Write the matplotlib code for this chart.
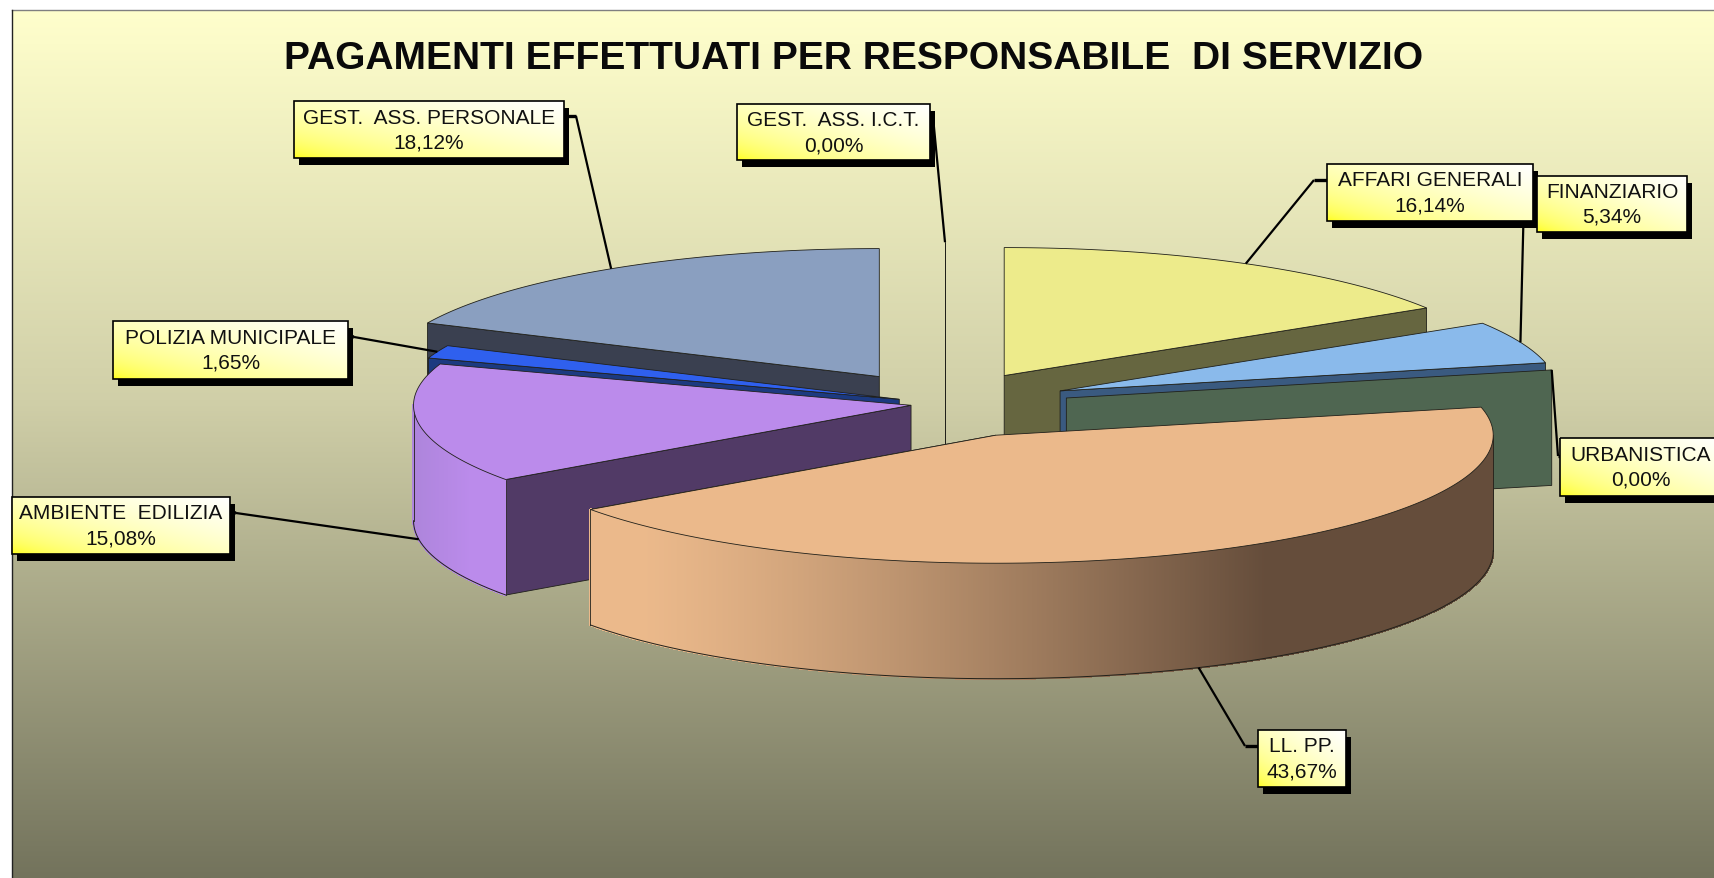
import numpy as np
import matplotlib
matplotlib.use("Agg")
import matplotlib.pyplot as plt
from matplotlib.patches import Polygon, Rectangle
from matplotlib.collections import PolyCollection
from matplotlib.colors import to_rgb

# ---- data (clockwise from 12 o'clock) ----
categories = ["AFFARI GENERALI", "FINANZIARIO", "URBANISTICA", "LL. PP.",
              "AMBIENTE  EDILIZIA", "POLIZIA MUNICIPALE",
              "GEST.  ASS. PERSONALE", "GEST.  ASS. I.C.T."]
values = [16.14, 5.34, 0.00, 43.67, 15.08, 1.65, 18.12, 0.00]
title_text = "PAGAMENTI EFFETTUATI PER RESPONSABILE  DI SERVIZIO"

# ---- style ----
explode = [0.245, 0.250, 0.250, 0.25, 0.069, 0.099, 0.245, 0.256]
drop = [0, 0, 2, 3, 1, 1, 0, 0]  # small vertical perspective nudges, pixels
top_colors = ["#EDEB8B", "#8ABAEB", "#4F6651", "#EBB98B", "#BB8BEB", "#2F60EE", "#8A9FC0", "#E8E8C0"]
wall_colors = ["#666640", "#3A5A80", "#4F6651", "#654D3B", "#513A66", "#1C3A80", "#3A4050", "#E8E8C0"]
paint_order = [7, 6, 5, 0, 1, 2, 4, 3]
# box: left, top, right, bottom (pixels)
boxes = [(1327, 165, 1533, 222), (1537, 177, 1687, 233), (1560, 439, 1722, 497),
         (1258, 731, 1346, 788), (12, 498, 230, 555), (113, 322, 348, 380),
         (294, 102, 564, 159), (737, 105, 930, 161)]
# leader elbow points next to each box (pixels)
elbows = [[(1327, 181), (1314, 181)], [(1537, 199), (1524, 199)], [(1560, 457), (1558, 457)],
          [(1258, 747), (1245, 747)], [(230, 513), (236, 514)], [(348, 337), (354, 338)],
          [(564, 117), (576, 117)], [(925, 118), (933, 118)]]
CX, CY, RX, RY, DEPTH = 945.0, 404.0, 497.5, 128.0, 115.5
W, H = 1715, 879

fig = plt.figure(figsize=(W / 100, H / 100), dpi=100, facecolor="white")
ax = fig.add_axes([0, 0, 1, 1])
ax.set_xlim(0, W)
ax.set_ylim(H, 0)
ax.axis("off")

# background gradient
stops_y = np.array([0.0, 0.45, 1.0])
stops_c = np.array([[255, 255, 204], [208, 207, 168], [115, 115, 92]]) / 255
t = np.linspace(0, 1, 400)
grad = np.stack([np.interp(t, stops_y, stops_c[:, i]) for i in range(3)], axis=1)[:, None, :]
ax.imshow(grad, extent=(12, W, H, 11), aspect="auto", zorder=0, interpolation="bilinear")
ax.set_xlim(0, W)
ax.set_ylim(H, 0)
ax.plot([12, W], [11, 11], color="#808080", lw=1, zorder=1)
ax.plot([12, 12], [11, H], color="#222222", lw=1, zorder=1)

# angular layout from the values
edges = np.concatenate([[0], np.cumsum(values)]) * 3.6
starts, ends = edges[:-1], edges[1:]
mids = (starts + ends) / 2


def apex(i):
    m = np.radians(mids[i])
    return np.array([CX + explode[i] * RX * np.sin(m), CY - explode[i] * RY * np.cos(m) + drop[i]])


def rim(c, deg):
    a = np.radians(deg)
    return np.column_stack([c[0] + RX * np.sin(a), c[1] - RY * np.cos(a)])


edge = "#20201a"
z = 2
for i in paint_order:
    c = apex(i)
    a0, a1 = starts[i], ends[i]
    # near radial wall
    wall_a = a0 if rim(c, [a0])[0, 1] >= rim(c, [a1])[0, 1] else a1
    if values[i] == 0:
        wall_a = a1
    r = rim(c, [wall_a])[0]
    quad = [c, r, r + [0, DEPTH], c + [0, DEPTH]]
    ax.add_patch(Polygon(quad, closed=True, facecolor=wall_colors[i], edgecolor=edge, lw=0.6, zorder=z))
    z += 1
    # outer rim, front half only
    lo, hi = max(a0, 90), min(a1, 270)
    if hi > lo:
        aa = np.linspace(lo, hi, int((hi - lo) * 5) + 2)
        pts = rim(c, aa)
        quads, cols = [], []
        for k in range(len(aa) - 1):
            quads.append([pts[k], pts[k + 1], pts[k + 1] + [0, DEPTH], pts[k] + [0, DEPTH]])
            x = pts[k:k + 2, 0].mean()
            if i == 3:
                f = np.clip((x - 640) / (1264 - 640), 0, 1) ** 1.2
                cols.append(tuple((1 - f) * np.array(to_rgb(top_colors[i])) + f * np.array(to_rgb(wall_colors[i]))))
            else:
                f = np.clip((x - 415) / (470 - 415), 0, 1)
                cols.append(tuple((1 - f) * np.array(to_rgb("#AE85DC")) + f * np.array(to_rgb(top_colors[i]))))
        ax.add_collection(PolyCollection(quads, facecolors=cols, edgecolors=cols, linewidths=1.0,
                                         antialiaseds=False, zorder=z))
        z += 1
        ax.plot(pts[:, 0], pts[:, 1] + DEPTH, color=edge, lw=0.7, zorder=z)
        ax.plot([pts[0, 0]] * 2, [pts[0, 1], pts[0, 1] + DEPTH], color=edge, lw=0.6, zorder=z)
        ax.plot([pts[-1, 0]] * 2, [pts[-1, 1], pts[-1, 1] + DEPTH], color=edge, lw=0.6, zorder=z)
        z += 1
    # top face
    if values[i] > 0:
        aa = np.linspace(a0, a1, max(int(a1 - a0) * 2, 12))
        poly = np.vstack([c, rim(c, aa)])
        ax.add_patch(Polygon(poly, closed=True, facecolor=top_colors[i], edgecolor=edge, lw=0.6, zorder=z))
        z += 1

# leaders end on the rim at each slice's mid angle
for i, name in enumerate(categories):
    c = apex(i)
    m = mids[i]
    end = rim(c, [m])[0]
    if 90 < (m % 360) < 270:
        end = end + [0, DEPTH]
    chain = np.array(elbows[i] + [tuple(end)])
    ax.plot(chain[:2, 0], chain[:2, 1], color="black", lw=2.4, zorder=200, solid_capstyle="butt")
    ax.plot(chain[1:, 0], chain[1:, 1], color="black", lw=1.6, zorder=200, solid_capstyle="butt")

# label boxes
n = 64
gx, gy = np.meshgrid(np.linspace(0, 1, n), np.linspace(0, 1, n))
tt = ((gx + (1 - gy)) / 2) ** 0.42
box_img = np.dstack([np.ones_like(tt), np.ones_like(tt), tt])
for i, name in enumerate(categories):
    l, tp, r, b = boxes[i]
    zb = 300 + i * 5
    ax.add_patch(Rectangle((l + 5.5, tp + 6.5), r - l, b - tp, facecolor="black", edgecolor="none", zorder=zb))
    ax.imshow(box_img, extent=(l, r, tp, b), aspect="auto", zorder=zb + 1, interpolation="bilinear", origin="lower")
    ax.add_patch(Rectangle((l, tp), r - l, b - tp, facecolor="none", edgecolor="black", lw=1.2, zorder=zb + 2))
    xc, yc = (l + r) / 2, (tp + b) / 2
    pct = f"{values[i]:.2f}%".replace(".", ",")
    ax.text(xc, yc - 12.5, name, ha="center", va="center", fontsize=15.0, family="Liberation Sans", color="#111111", zorder=zb + 3)
    ax.text(xc, yc + 12.5, pct, ha="center", va="center", fontsize=15.0, family="Liberation Sans", color="#111111", zorder=zb + 3)
ax.set_xlim(0, W)
ax.set_ylim(H, 0)

# title
ax.text(854, 59, title_text, ha="center", va="center", fontsize=28.1, fontweight="bold",
        family="Liberation Sans", color="#0a0a0a", zorder=400)

fig.savefig("out.png", dpi=100)
